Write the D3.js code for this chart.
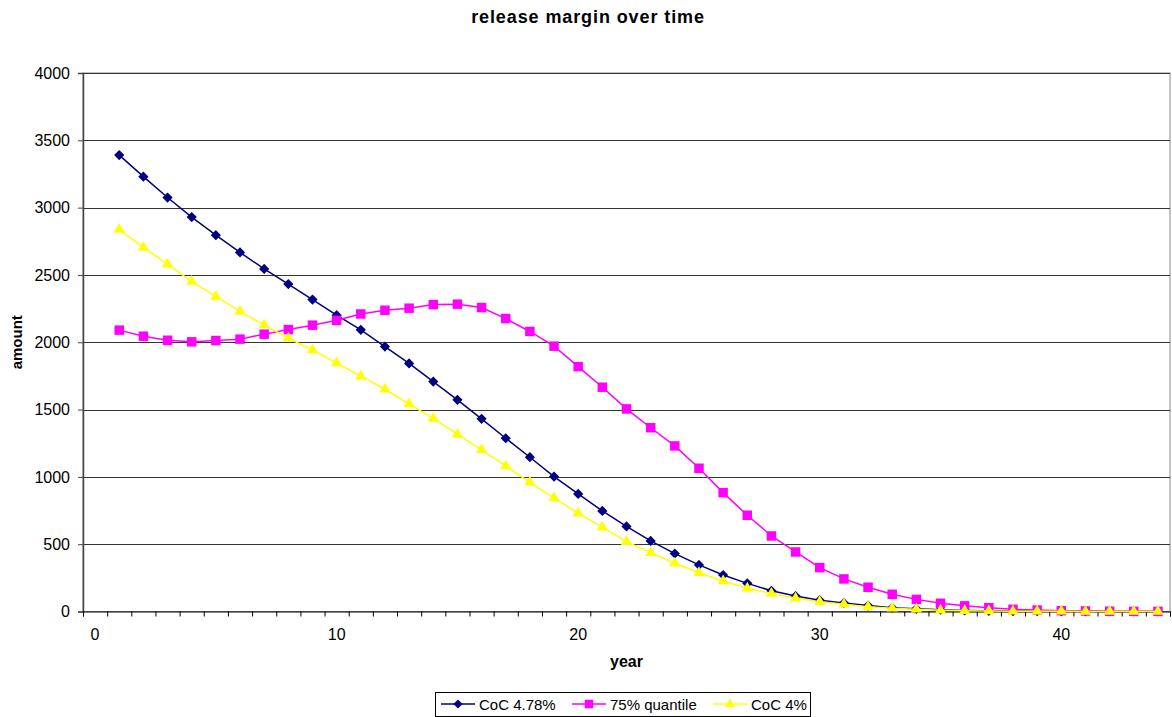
<!DOCTYPE html>
<html>
<head>
<meta charset="utf-8">
<script src="https://cdn.jsdelivr.net/npm/d3@7"></script>
<style>
  body { margin: 0; background: #fff; }
  text { font-family: "Liberation Sans", Arial, sans-serif; }
</style>
</head>
<body>
<script>
// years 1..44
var years = d3.range(1, 45);

var coc478 = [3390, 3230, 3075, 2930, 2795, 2667, 2545, 2432, 2317, 2201,
  2092, 1968, 1843, 1708, 1572, 1431, 1287, 1146, 1002, 873,
  747, 632, 524, 430, 346, 271, 209, 154, 115, 84,
  63, 44, 28, 20, 13, 8, 5, 3, 2, 1,
  1, 0, 0, 0];

var quantile75 = [2090, 2045, 2015, 2003, 2013, 2023, 2060, 2094, 2127, 2163,
  2210, 2238, 2253, 2280, 2283, 2258, 2176, 2080, 1971, 1819,
  1666, 1505, 1365, 1230, 1064, 883, 715, 561, 442, 326,
  242, 180, 128, 90, 61, 42, 28, 16, 11, 6,
  4, 2, 1, 1];

var coc4 = [2837, 2704, 2580, 2451, 2340, 2228, 2129, 2030, 1943, 1845,
  1748, 1651, 1542, 1433, 1317, 1201, 1081, 960, 844, 730,
  626, 519, 437, 358, 288, 227, 172, 133, 98, 73,
  53, 36, 24, 16, 10, 6, 4, 2, 1, 1,
  0, 0, 0, 0];

var yTicks = [0, 500, 1000, 1500, 2000, 2500, 3000, 3500, 4000];
var xLabels = [0, 10, 20, 30, 40];

var diamond = {
  draw: function (ctx, size) {
    var r = Math.sqrt(size / 2);
    ctx.moveTo(0, -r); ctx.lineTo(r, 0); ctx.lineTo(0, r); ctx.lineTo(-r, 0); ctx.closePath();
  }
};

var series = [
  { name: "CoC 4.78%", values: coc478, color: "#000080", shape: diamond, size: 52 },
  { name: "75% quantile", values: quantile75, color: "#FF00FF", shape: d3.symbolSquare, size: 90 },
  { name: "CoC 4%", values: coc4, color: "#FFFF00", shape: d3.symbolTriangle, size: 55 }
];

var W = 1172, H = 717;
var plot = { left: 83, right: 1170, top: 73, bottom: 611.5 };

var svg = d3.select("body").append("svg")
  .attr("width", W)
  .attr("height", H);

// category axis: each year sits in the middle of its slot
var x = d3.scaleLinear().domain([-0.5, 44.5]).range([plot.left, plot.right]);
var y = d3.scaleLinear().domain([0, 4000]).range([plot.bottom, plot.top]);

// plot area border
svg.append("rect")
  .attr("x", plot.left).attr("y", plot.top)
  .attr("width", plot.right - plot.left)
  .attr("height", plot.bottom - plot.top)
  .attr("fill", "none").attr("stroke", "#888").attr("stroke-width", 1);

// horizontal gridlines
svg.append("g").selectAll("line")
  .data(yTicks.slice(1))
  .join("line")
  .attr("x1", plot.left).attr("x2", plot.right)
  .attr("y1", d => Math.round(y(d)) + 0.5).attr("y2", d => Math.round(y(d)) + 0.5)
  .attr("stroke", "#333").attr("stroke-width", 1);

// y axis
var yAxis = svg.append("g")
  .attr("transform", "translate(" + plot.left + ",0)")
  .call(d3.axisLeft(y).tickValues(yTicks).tickSize(5).tickPadding(8).tickFormat(d3.format("d")));
yAxis.select(".domain").attr("stroke", "#444").attr("stroke-width", 1.5);
yAxis.selectAll(".tick line").attr("stroke", "#444");
yAxis.selectAll("text").attr("font-size", 16).attr("fill", "#000")
  .style("font-family", "'Liberation Sans', Arial, sans-serif");

// x axis: tick marks between categories, labels on categories
var xTickVals = d3.range(0, 46).map(k => k - 0.5);
var xAxis = svg.append("g")
  .attr("transform", "translate(0," + plot.bottom + ")")
  .call(d3.axisBottom(x).tickValues(xTickVals).tickSize(5).tickFormat(""));
xAxis.select(".domain").attr("stroke", "#000").attr("stroke-width", 1);
xAxis.selectAll(".tick line").attr("stroke", "#000");

svg.append("g").selectAll("text")
  .data(xLabels)
  .join("text")
  .attr("x", d => x(d))
  .attr("y", 640)
  .attr("text-anchor", "middle")
  .attr("font-size", 16)
  .text(d => d);

// lines and markers
series.forEach(function (s) {
  var pts = years.map((yr, i) => ({ year: yr, value: s.values[i] }));
  var line = d3.line()
    .x(d => x(d.year))
    .y(d => y(d.value));
  svg.append("path")
    .datum(pts)
    .attr("d", line)
    .attr("fill", "none")
    .attr("stroke", s.color)
    .attr("stroke-width", 1.5);
  svg.append("g").selectAll("path")
    .data(pts)
    .join("path")
    .attr("transform", d => "translate(" + x(d.year) + "," + y(d.value) + ")")
    .attr("d", d3.symbol().type(s.shape).size(s.size))
    .attr("fill", s.color);
});

// titles
svg.append("text")
  .attr("x", 588).attr("y", 23)
  .attr("text-anchor", "middle")
  .attr("font-size", 18).attr("font-weight", "bold")
  .attr("letter-spacing", 0.9)
  .text("release margin over time");

svg.append("text")
  .attr("x", (plot.left + plot.right) / 2).attr("y", 667)
  .attr("text-anchor", "middle")
  .attr("font-size", 16).attr("font-weight", "bold")
  .text("year");

svg.append("text")
  .attr("transform", "translate(22," + ((plot.top + plot.bottom) / 2) + ") rotate(-90)")
  .attr("text-anchor", "middle")
  .attr("font-size", 15).attr("font-weight", "bold")
  .text("amount");

// legend
var legend = svg.append("g");
legend.append("rect")
  .attr("x", 435.5).attr("y", 692.5)
  .attr("width", 375).attr("height", 24)
  .attr("fill", "#fff").attr("stroke", "#000").attr("stroke-width", 1);

var legendX = [441, 572, 713];
series.forEach(function (s, i) {
  var g = legend.append("g").attr("transform", "translate(" + legendX[i] + ",704)");
  g.append("line").attr("x1", 0).attr("x2", 34).attr("y1", 0).attr("y2", 0)
    .attr("stroke", s.color).attr("stroke-width", 1.5);
  g.append("path")
    .attr("transform", "translate(17,0)")
    .attr("d", d3.symbol().type(s.shape).size(s.size * 0.8))
    .attr("fill", s.color);
  g.append("text")
    .attr("x", 38).attr("y", 5.5)
    .attr("font-size", 15)
    .text(s.name);
});
</script>
</body>
</html>
